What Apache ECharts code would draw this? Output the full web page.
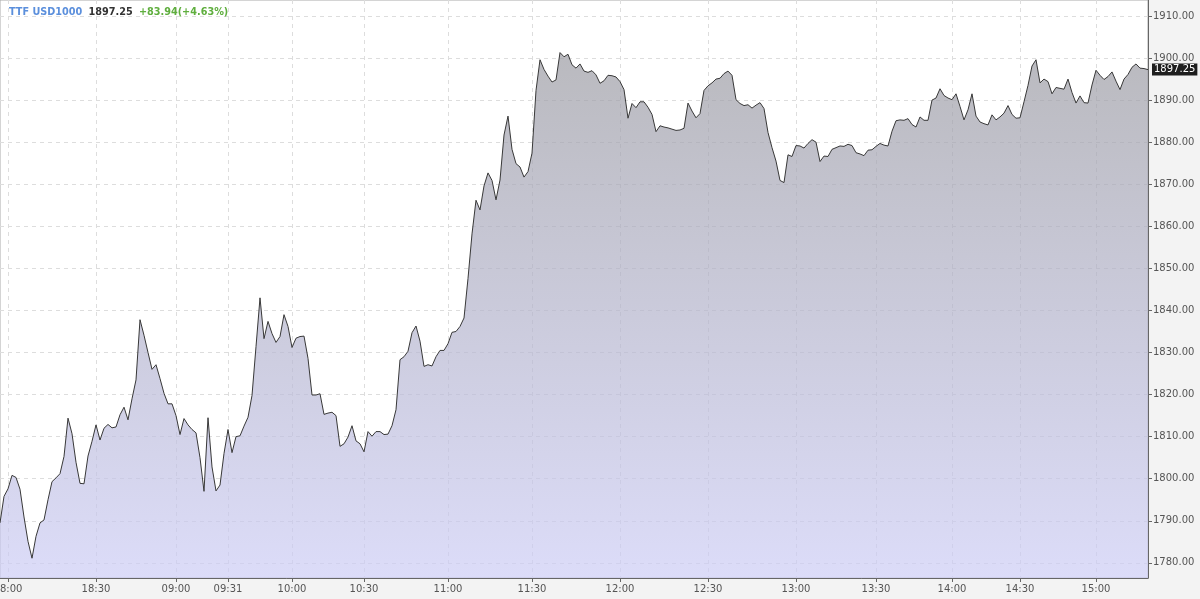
<!DOCTYPE html>
<html>
<head>
<meta charset="utf-8">
<script src="https://cdn.jsdelivr.net/npm/echarts@6/dist/echarts.min.js"></script>
<style>
html,body{margin:0;padding:0;background:#f3f3f3;}
#chart{width:1200px;height:599px;}
</style>
</head>
<body>
<div id="chart"></div>
<script>
// Price series (TTF USD1000), evenly spaced ticks of the intraday session
const prices = [
1789.5,1795.8,1797.6,1800.8,1800.3,1797.5,1790.9,1785.1,1781.1,1786.3,
1789.5,1790.2,1795.0,1799.3,1800.2,1801.2,1805.3,1814.4,1810.7,1803.9,
1798.9,1798.8,1805.4,1808.9,1812.8,1809.2,1812.0,1812.9,1812.1,1812.3,
1815.2,1817.0,1814.0,1819.0,1823.5,1837.8,1834.1,1830.0,1826.0,1827.1,
1823.8,1820.3,1817.8,1817.8,1815.0,1810.5,1814.3,1812.8,1811.7,1810.9,
1805.0,1797.0,1814.5,1802.8,1797.1,1798.5,1806.0,1811.7,1806.2,1810.0,
1810.2,1812.5,1814.6,1819.8,1831.4,1843.0,1833.3,1837.4,1834.5,1832.4,
1833.8,1839.0,1836.2,1831.2,1833.4,1833.8,1833.9,1828.6,1819.9,1819.9,
1820.2,1815.3,1815.6,1815.8,1815.0,1807.7,1808.3,1809.9,1812.6,1809.0,
1808.3,1806.4,1811.2,1810.1,1811.2,1811.2,1810.5,1810.6,1812.6,1816.4,
1828.3,1829.0,1830.3,1834.7,1836.3,1832.7,1826.7,1827.1,1826.8,1829.0,
1830.5,1830.5,1832.1,1834.8,1835.0,1836.2,1838.2,1847.6,1858.2,1866.2,
1863.9,1869.6,1872.7,1870.9,1866.3,1871.0,1881.7,1886.2,1878.3,1874.9,
1874.1,1871.7,1873.0,1877.4,1892.3,1899.6,1897.3,1895.7,1894.3,1894.8,
1901.3,1900.3,1900.9,1898.4,1897.6,1898.6,1896.9,1896.6,1897.0,1896.0,
1894.0,1894.6,1895.9,1895.8,1895.5,1894.4,1892.5,1885.7,1889.2,1888.2,
1889.6,1889.6,1888.3,1886.6,1882.5,1883.9,1883.6,1883.4,1883.1,1882.8,
1882.9,1883.3,1889.3,1887.4,1885.8,1886.8,1892.3,1893.4,1894.1,1895.0,
1895.2,1896.3,1896.9,1895.9,1890.1,1889.2,1888.7,1888.9,1888.1,1888.8,
1889.4,1888.0,1882.3,1878.7,1875.5,1870.9,1870.4,1877.0,1876.6,1879.2,
1879.1,1878.6,1879.7,1880.6,1880.0,1875.4,1876.7,1876.6,1878.3,1878.7,
1879.1,1879.0,1879.5,1879.2,1877.5,1877.2,1876.8,1878.1,1878.2,1879.0,
1879.7,1879.3,1879.1,1882.6,1885.1,1885.3,1885.2,1885.6,1884.2,1883.6,
1886.0,1885.2,1885.2,1890.0,1890.5,1892.7,1891.1,1890.5,1890.1,1891.5,
1888.5,1885.3,1887.7,1891.5,1886.2,1884.8,1884.4,1884.1,1886.5,1885.3,
1886.0,1886.9,1888.7,1886.6,1885.7,1885.8,1889.6,1893.5,1898.1,1899.6,
1894.1,1895.0,1894.4,1891.5,1893.0,1892.8,1892.6,1895.0,1891.8,1889.3,
1891.0,1889.4,1889.3,1893.6,1897.1,1895.9,1894.9,1895.6,1896.7,1894.5,
1892.5,1895.0,1896.1,1897.8,1898.6,1897.6,1897.5,1897.25
];
// Time labels at tick indices
const tickIndex = [2, 24, 44, 57, 73, 91, 112, 133, 155, 177, 199, 219, 238, 255, 274];
const tickLabels = ['18:00','18:30','09:00','09:31','10:00','10:30','11:00','11:30','12:00','12:30','13:00','13:30','14:00','14:30','15:00'];
const yTicks = [1780,1790,1800,1810,1820,1830,1840,1850,1860,1870,1880,1890,1900,1910];
const yMin = 1776.4, yMax = 1913.8;
const instrument = 'TTF USD1000';
const lastPrice = '1897.25';
const change = '+83.94(+4.63%)';

const categories = prices.map((_, i) => String(i));
const isTick = (idx) => tickIndex.indexOf(idx) >= 0;

const chart = echarts.init(document.getElementById('chart'), null, {renderer: 'canvas'});
chart.setOption({
  animation: false,
  backgroundColor: '#f3f3f3',
  textStyle: {fontFamily: 'DejaVu Sans'},
  title: {
    left: 4, top: -2,
    text: '{a|' + instrument + '} {b|' + lastPrice + '} {c|' + change + '}',
    textStyle: {
      rich: {
        a: {color: '#5b8fdc', fontSize: 9.7, fontWeight: 'bold', fontFamily: 'DejaVu Sans'},
        b: {color: '#333333', fontSize: 9.7, fontWeight: 'bold', fontFamily: 'DejaVu Sans'},
        c: {color: '#5fae3e', fontSize: 9.7, fontWeight: 'bold', fontFamily: 'DejaVu Sans'}
      }
    }
  },
  grid: {left: 0, right: 52, top: 0, bottom: 21, containLabel: false, outerBoundsMode: 'none',
    show: true, backgroundColor: '#ffffff', borderColor: '#aaaaaa', borderWidth: 1},
  xAxis: {
    type: 'category',
    data: categories,
    boundaryGap: false,
    axisLine: {show: true, lineStyle: {color: '#666', width: 1}},
    axisTick: {show: true, interval: isTick, length: 4, lineStyle: {color: '#666'}},
    axisLabel: {
      interval: isTick,
      formatter: (v, idx) => { const k = tickIndex.indexOf(idx); return k >= 0 ? tickLabels[k] : ''; },
      color: '#555', fontSize: 10, margin: 6, fontFamily: 'DejaVu Sans'
    },
    splitLine: {show: true, interval: isTick, lineStyle: {color: '#dddddd', type: [4, 4], width: 1}}
  },
  yAxis: {
    type: 'value',
    position: 'right',
    min: yMin, max: yMax,
    axisLine: {show: true, lineStyle: {color: '#666', width: 1}},
    axisTick: {show: true, length: 4, customValues: yTicks, lineStyle: {color: '#666'}},
    axisLabel: {customValues: yTicks, formatter: v => v.toFixed(2), color: '#555', fontSize: 10, margin: 5, fontFamily: 'DejaVu Sans'},
    splitLine: {show: true, lineStyle: {color: '#dddddd', type: [4, 4], width: 1}}
  },
  series: [{
    type: 'line',
    data: prices,
    symbol: 'none',
    lineStyle: {color: '#383838', width: 1},
    areaStyle: {
      color: new echarts.graphic.LinearGradient(0, 0, 0, 1, [
        {offset: 0, color: '#9c9ca3'},
        {offset: 1, color: '#cdcdf6'}
      ])
    },
    markLine: {
      silent: true,
      symbol: ['none', 'none'],
      lineStyle: {color: 'rgba(0,0,0,0)', width: 0},
      data: [{yAxis: prices[prices.length - 1]}],
      label: {
        show: true, position: 'end', distance: 4,
        formatter: lastPrice,
        backgroundColor: '#1e1e1e', color: '#ffffff',
        fontSize: 10, fontFamily: 'DejaVu Sans', padding: [1, 2, 1, 2]
      }
    }
  }]
});
</script>
</body>
</html>
